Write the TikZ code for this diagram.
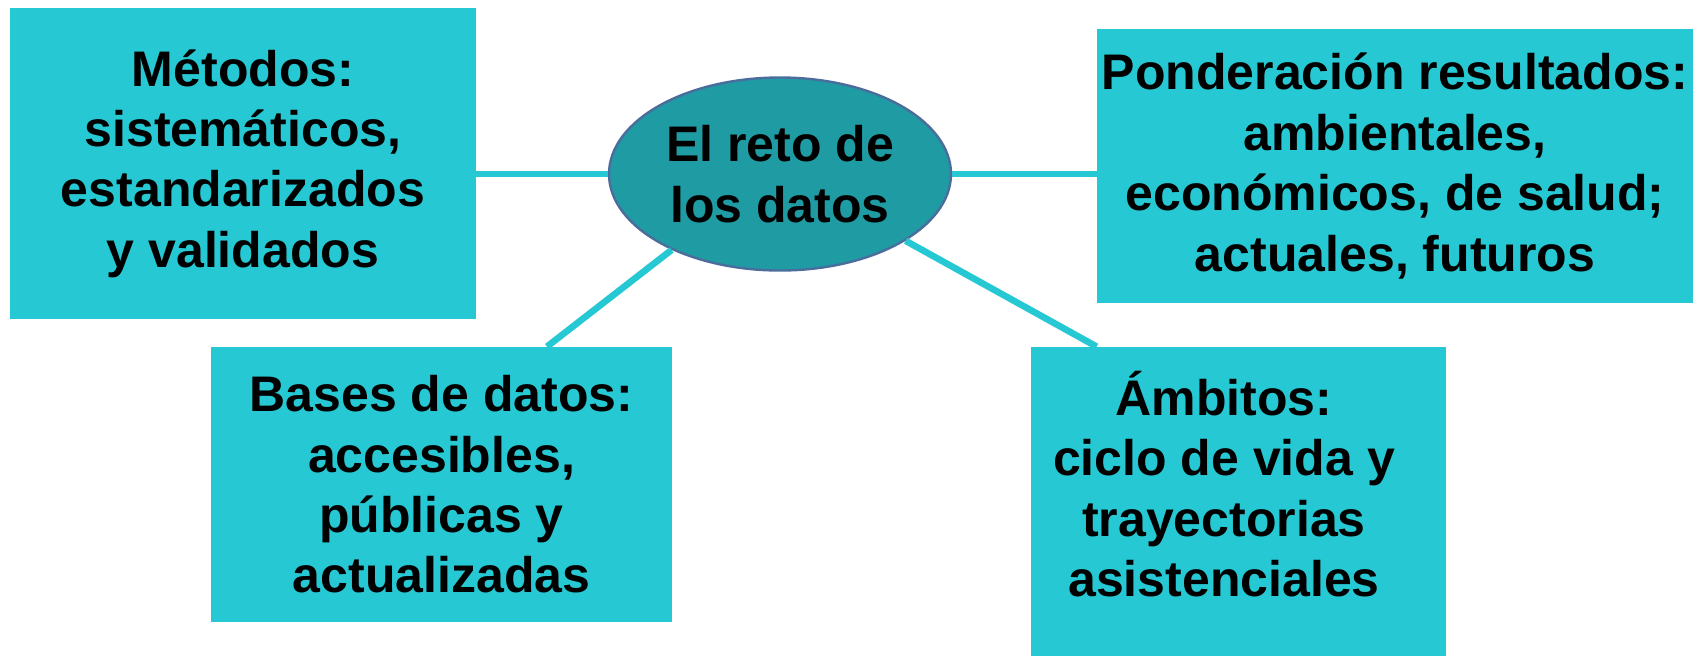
\documentclass[tikz,border=0pt]{standalone}
\usepackage{fontspec}
\setmainfont{Liberation Sans}
\usetikzlibrary{shapes.geometric}

\definecolor{boxcyan}{HTML}{26C9D3}
\definecolor{hubteal}{HTML}{1F9BA3}
\definecolor{hubedge}{HTML}{4A6D9C}

\begin{document}
\begin{tikzpicture}
        [
            x = 0.5pt, y = -0.5pt,
            words/.style = {
                align=center, inner sep=0pt,
                font=\fontsize{25}{30.2}\selectfont\bfseries},
            topic/.style = {words, rectangle, fill=boxcyan},
            hub/.style = {
                words, ellipse, fill=hubteal, draw=hubedge, line width=1.2pt,
                minimum width=171pt, minimum height=96.5pt},
            tie/.style = {draw=boxcyan, line width=3.3pt}
        ]
        \useasboundingbox (0,0) rectangle (1699,655);
        \node [hub] (Reto) at (780,174) {El reto de\\los datos};
        \node [topic, minimum width=233pt, minimum height=155.5pt] (Metodos) at (243,163.5)
            {Métodos:\\sistemáticos,\\estandarizados\\y validados};
        \node [topic, minimum width=298pt, minimum height=137pt] (Ponderacion) at (1395,166)
            {Ponderación resultados:\\ambientales,\\económicos, de salud;\\actuales, futuros};
        \node [topic, minimum width=230.5pt, minimum height=137.5pt] (Bases) at (441.5,484.5)
            {Bases de datos:\\accesibles,\\públicas y\\actualizadas};
        \node [topic, minimum width=207.5pt, minimum height=158pt] (Ambitos) at (1238.5,505) {};
        \node [words] (AmbitosText) at (1224,484)
            {Ámbitos:\\ciclo de vida y\\trayectorias\\asistenciales};
        \draw [tie] (Reto.west) -- (Reto.west -| Metodos.east);
        \draw [tie] (Reto.east) -- (Reto.east -| Ponderacion.west);
        \draw [tie] (Reto.215) -- ([xshift=52.75pt]Bases.north);
        \draw [tie] (Reto.332) -- ([xshift=33pt]Ambitos.north west);
    \end{tikzpicture}
\end{document}
